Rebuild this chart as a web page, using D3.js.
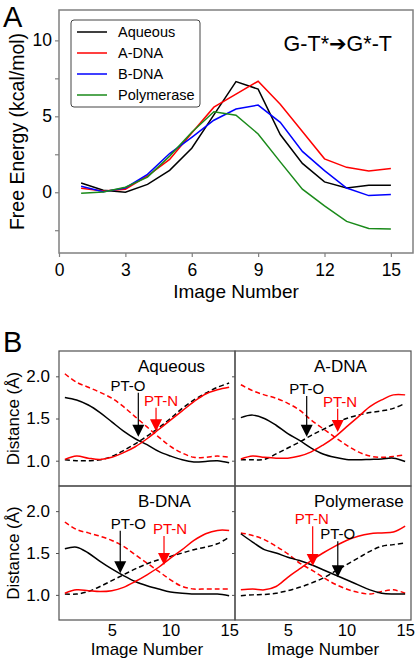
<!DOCTYPE html>
<html><head><meta charset="utf-8">
<script src="https://cdn.jsdelivr.net/npm/d3@7"></script>
<style>
html,body{margin:0;padding:0;background:#fff;}
svg{display:block;font-family:"Liberation Sans",Arial,sans-serif;}
</style></head>
<body><svg id="chart" width="416" height="659"></svg>
<script>
// ---------- Panel A data ----------
const images = [1,2,3,4,5,6,7,8,9,10,11,12,13,14,15];
const feSeriesNames = ["Aqueous","A-DNA","B-DNA","Polymerase"];
const feColors = ["#000000","#ff0000","#0000ff","#1a8a1a"];
const aqueousFE = [0.61,0.13,0.0,0.52,1.44,2.9,5.1,7.29,6.79,3.8,1.9,0.68,0.28,0.46,0.46];
const aDnaFE    = [0.26,0.09,0.2,1.07,2.16,3.9,5.6,6.46,7.31,5.8,4.0,2.2,1.64,1.4,1.57];
const bDnaFE    = [0.39,0.04,0.28,1.18,2.55,3.62,4.74,5.48,5.74,4.6,2.69,1.42,0.28,-0.22,-0.15];
const polFE     = [-0.07,0.02,0.33,1.0,2.38,3.95,5.3,5.07,3.84,2.0,0.2,-0.9,-1.92,-2.38,-2.42];
const feXTicks = [0,3,6,9,12,15];
const feYTicks = [-2.5,0,2.5,5,7.5,10];
const feYLabels = [0,5,10];

// ---------- Panel B data ----------
const panelNames = ["Aqueous","A-DNA","B-DNA","Polymerase"];
const blackSolid = [
  [1.75,1.72,1.66,1.57,1.46,1.35,1.26,1.19,1.11,1.055,1.01,0.985,0.99,1.0,0.975],
  [1.51,1.54,1.5,1.42,1.32,1.24,1.15,1.08,1.04,1.015,1.01,1.015,1.02,1.03,0.99],
  [1.55,1.57,1.5,1.4,1.31,1.23,1.16,1.11,1.07,1.035,1.02,1.01,1.01,1.01,0.99],
  [1.73,1.63,1.54,1.5,1.45,1.41,1.36,1.3,1.24,1.18,1.12,1.06,1.02,1.01,1.01]
];
const blackDashed = [
  [1.01,1.0,1.0,1.01,1.05,1.12,1.2,1.29,1.39,1.5,1.62,1.72,1.8,1.87,1.92],
  [1.01,1.01,1.015,1.08,1.15,1.22,1.3,1.37,1.44,1.5,1.54,1.57,1.59,1.62,1.68],
  [1.01,1.01,1.04,1.1,1.17,1.24,1.31,1.37,1.42,1.46,1.5,1.54,1.57,1.61,1.69],
  [0.99,1.0,1.005,1.02,1.05,1.09,1.14,1.2,1.28,1.36,1.44,1.52,1.58,1.6,1.62]
];
const redSolid = [
  [1.015,1.055,1.03,1.015,1.04,1.095,1.165,1.26,1.37,1.48,1.59,1.7,1.79,1.84,1.87],
  [1.02,1.055,1.04,1.03,1.03,1.055,1.105,1.185,1.28,1.4,1.52,1.64,1.72,1.78,1.78],
  [1.02,1.06,1.05,1.04,1.05,1.09,1.16,1.24,1.33,1.44,1.54,1.65,1.73,1.77,1.77],
  [1.06,1.07,1.06,1.1,1.21,1.31,1.41,1.5,1.58,1.65,1.7,1.73,1.74,1.75,1.82]
];
const redDashed = [
  [2.03,1.93,1.87,1.81,1.74,1.64,1.52,1.4,1.28,1.17,1.09,1.04,1.04,1.055,1.04],
  [1.9,1.83,1.78,1.74,1.68,1.6,1.48,1.38,1.28,1.185,1.105,1.055,1.04,1.05,1.07],
  [1.87,1.78,1.74,1.7,1.65,1.58,1.48,1.38,1.28,1.18,1.1,1.07,1.07,1.07,1.07],
  [1.74,1.71,1.66,1.58,1.49,1.38,1.3,1.21,1.13,1.07,1.03,1.01,1.04,1.06,1.02]
];
const distXTicks = [5,10,15];
const distYTicks = [1.0,1.5,2.0];
// annotations: [panel, label, colour, arrowX, arrowTipY, textX, textBaselineY] in data units
const annotations = [
  [0,"PT-O","#000",7.26,1.284,6.38,1.83],
  [0,"PT-N","#ff0000",8.77,1.35,9.19,1.65],
  [1,"PT-O","#000",6.61,1.284,6.61,1.79],
  [1,"PT-N","#ff0000",9.25,1.34,9.45,1.64],
  [2,"PT-O","#000",5.72,1.258,6.41,1.79],
  [2,"PT-N","#ff0000",9.45,1.357,9.96,1.727],
  [3,"PT-N","#ff0000",7.12,1.345,7.04,1.843],
  [3,"PT-O","#000",9.26,1.21,9.26,1.664]
];

const svg = d3.select("#chart");

// ================= Panel A =================
{
  const L=59,R=413,T=10,B=253;
  const x = d3.scaleLinear().domain([0,16]).range([L,R]);
  const y = d3.scaleLinear().domain([-4,12]).range([B,T]);
  const g = svg.append("g");
  g.append("text").attr("x",3).attr("y",27).attr("font-size",29).text("A");

  const xa = g.append("g").attr("transform",`translate(0,${B})`)
    .call(d3.axisBottom(x).tickValues(feXTicks).tickSize(4).tickPadding(7).tickFormat(d3.format("d")));
  const ya = g.append("g").attr("transform",`translate(${L},0)`)
    .call(d3.axisLeft(y).tickValues(feYTicks).tickSize(4).tickPadding(3)
      .tickFormat(d => feYLabels.includes(d) ? d3.format("d")(d) : ""));
  [xa,ya].forEach(a=>{
    a.select(".domain").remove();
    a.selectAll("line").attr("stroke","#808080").attr("stroke-width",1.2);
    a.selectAll("text").attr("font-size",17.5).attr("fill","#000").attr("font-family","Liberation Sans, Arial, sans-serif");
  });
  g.append("rect").attr("x",L).attr("y",T).attr("width",R-L).attr("height",B-T)
    .attr("fill","none").attr("stroke","#808080").attr("stroke-width",1.5);

  const line = d3.line().x((d,i)=>x(images[i])).y(d=>y(d));
  [aqueousFE,aDnaFE,bDnaFE,polFE].forEach((s,k)=>{
    g.append("path").attr("d",line(s)).attr("fill","none")
      .attr("stroke",feColors[k]).attr("stroke-width",1.5);
  });

  // legend
  const lg = g.append("g");
  lg.append("rect").attr("x",71).attr("y",20).attr("width",129).attr("height",87).attr("rx",3)
    .attr("fill","#fff").attr("stroke","#444").attr("stroke-width",1);
  feSeriesNames.forEach((n,k)=>{
    const yy = 32 + k*21;
    lg.append("line").attr("x1",77).attr("x2",107).attr("y1",yy).attr("y2",yy)
      .attr("stroke",feColors[k]).attr("stroke-width",1.5);
    lg.append("text").attr("x",118).attr("y",yy).attr("dy","0.35em").attr("font-size",14.5).text(n);
  });

  g.append("text").attr("x",392).attr("y",51).attr("text-anchor","end").attr("font-size",21.5)
    .html('G-T*<tspan font-family="DejaVu Sans" font-size="21">➔</tspan>G*-T');

  g.append("text").attr("x",(L+R)/2).attr("y",297.5).attr("text-anchor","middle")
    .attr("font-size",19).text("Image Number");
  g.append("text").attr("transform",`translate(24,${(T+B)/2}) rotate(-90)`)
    .attr("text-anchor","middle").attr("font-size",19.5).text("Free Energy (kcal/mol)");
}

// ================= Panel B =================
{
  const xs=[[59,235],[235,411]];
  const ys=[[351,486],[486,620]];
  svg.append("text").attr("x",3).attr("y",352).attr("font-size",29).text("B");
  const frame = "#505050";
  const curve = d3.curveCatmullRom.alpha(0.5);

  panelNames.forEach((name,p)=>{
    const col = p%2, row = Math.floor(p/2);
    const [L,R] = xs[col], [T,B] = ys[row];
    const x = d3.scaleLinear().domain([0.5,15.5]).range([L,R]);
    const y = d3.scaleLinear().domain([0.7,2.3]).range([B,T]);
    const g = svg.append("g");

    const ya = g.append("g").attr("transform",`translate(${L},0)`)
      .call(d3.axisLeft(y).tickValues(distYTicks).tickSize(3).tickPadding(6)
        .tickFormat(d3.format(".1f")));
    ya.select(".domain").remove();
    ya.selectAll("line").attr("stroke",frame);
    ya.selectAll("text").attr("font-size",17).attr("fill","#000")
      .attr("font-family","Liberation Sans, Arial, sans-serif");
    if(col===1) ya.selectAll("text").remove();

    if(row===1){
      const xa = g.append("g").attr("transform",`translate(0,${B})`)
        .call(d3.axisBottom(x).tickValues(distXTicks).tickSize(0).tickPadding(4).tickFormat(d3.format("d")));
      xa.select(".domain").remove();
      xa.selectAll("text").attr("font-size",16.5).attr("fill","#000")
        .attr("font-family","Liberation Sans, Arial, sans-serif");
      g.append("text").attr("x",(L+R)/2).attr("y",655).attr("text-anchor","middle")
        .attr("font-size",17).text("Image Number");
    }
    if(col===0){
      g.append("text").attr("transform",`translate(19,${(T+B)/2}) rotate(-90)`)
        .attr("text-anchor","middle").attr("font-size",17).text("Distance (Å)");
    }

    const line = d3.line().x((d,i)=>x(images[i])).y(d=>y(d)).curve(curve);
    const series = [
      [redDashed[p],"#ff0000","5,3"],
      [blackDashed[p],"#000","5,3"],
      [blackSolid[p],"#000",null],
      [redSolid[p],"#ff0000",null]
    ];
    series.forEach(([s,c,dash])=>{
      const pth = g.append("path").attr("d",line(s)).attr("fill","none")
        .attr("stroke",c).attr("stroke-width",1.5);
      if(dash) pth.attr("stroke-dasharray",dash);
    });

    g.append("text").attr("x",L+79).attr("y",T+21).attr("font-size",17).text(name);

    annotations.filter(a=>a[0]===p).forEach(([pp,label,c,ax,tipY,tx,ty])=>{
      const X = x(ax), tip = y(tipY), top = y(ty)+2;
      g.append("text").attr("x",x(tx)).attr("y",y(ty)).attr("text-anchor","middle")
        .attr("font-size",15).attr("fill",c).text(label);
      g.append("line").attr("x1",X).attr("x2",X).attr("y1",top).attr("y2",tip-10)
        .attr("stroke",c).attr("stroke-width",1.2);
      g.append("path").attr("d",`M${X-6},${tip-12} L${X+6},${tip-12} L${X},${tip} Z`).attr("fill",c);
    });

    g.append("rect").attr("x",L).attr("y",T).attr("width",R-L).attr("height",B-T)
      .attr("fill","none").attr("stroke",frame).attr("stroke-width",1.2);
  });
}
</script></body></html>
